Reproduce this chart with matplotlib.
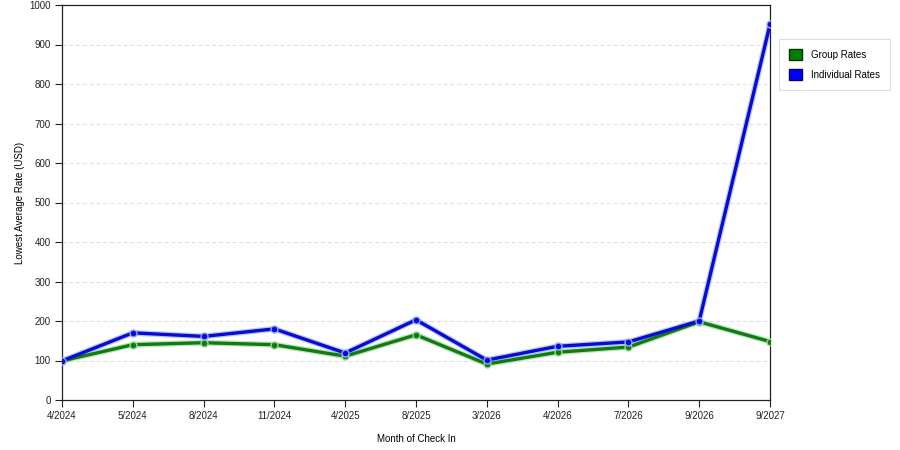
import matplotlib.pyplot as plt
import matplotlib.patches as mpatches

# Data
months = ['4/2024', '5/2024', '8/2024', '11/2024', '4/2025', '8/2025',
          '3/2026', '4/2026', '7/2026', '9/2026', '9/2027']
group_rates = [99, 140, 145, 140, 111, 165, 91, 121, 134, 198, 148]
individual_rates = [99, 170, 161, 180, 119, 203, 101, 136, 147, 200, 951]

plt.rcParams['font.family'] = ['Liberation Sans', 'DejaVu Sans']

fig = plt.figure(figsize=(9, 4.5), dpi=100)
ax = fig.add_axes([62 / 900, 50 / 450, 708 / 900, 395 / 450])

x = range(len(months))

# soft halo under each line, then the line itself
for vals, col, halo in [(group_rates, '#137a13', '#8fd88f'),
                        (individual_rates, '#0a0ad0', '#8ca8ff')]:
    ax.plot(x, vals, color=halo, lw=4.2, alpha=0.6, zorder=2,
            solid_capstyle='round')
    ax.plot(x, vals, color=col, lw=2.4, marker='o', markersize=5,
            markerfacecolor=col, markeredgecolor=halo, markeredgewidth=1,
            zorder=3)

ax.set_xlim(0, len(months) - 1)
ax.set_ylim(0, 1000)
ax.set_xticks(list(x))
ax.set_xticklabels(months)
ax.set_yticks(range(0, 1001, 100))

for y in range(100, 1000, 100):
    ax.axhline(y, color='#dcdcdc', lw=0.7, ls=(0, (4, 3)), zorder=1)

ax.tick_params(direction='out', length=5, width=0.8, labelsize=7,
               colors='#222222', pad=3)
for s in ax.spines.values():
    s.set_color('#222222')
    s.set_linewidth(0.9)

ax.set_xlabel('Month of Check In', fontsize=7, labelpad=9)
ax.set_ylabel('Lowest Average Rate (USD)', fontsize=7, labelpad=3)

handles = [mpatches.Patch(facecolor='#008000', edgecolor='#003300', label='Group Rates'),
           mpatches.Patch(facecolor='#0000ff', edgecolor='#000066', label='Individual Rates')]
leg = fig.legend(handles=handles, loc='upper left', bbox_to_anchor=(779 / 900, 1 - 39 / 450),
                 fontsize=7, frameon=True, fancybox=False, handlelength=1.3,
                 handleheight=1.3, borderpad=1.05, labelspacing=0.95, handletextpad=0.9,
                 borderaxespad=0)
leg.get_frame().set_edgecolor('#d8d8d8')
leg.get_frame().set_linewidth(0.8)

fig.savefig('out.png', dpi=100)
